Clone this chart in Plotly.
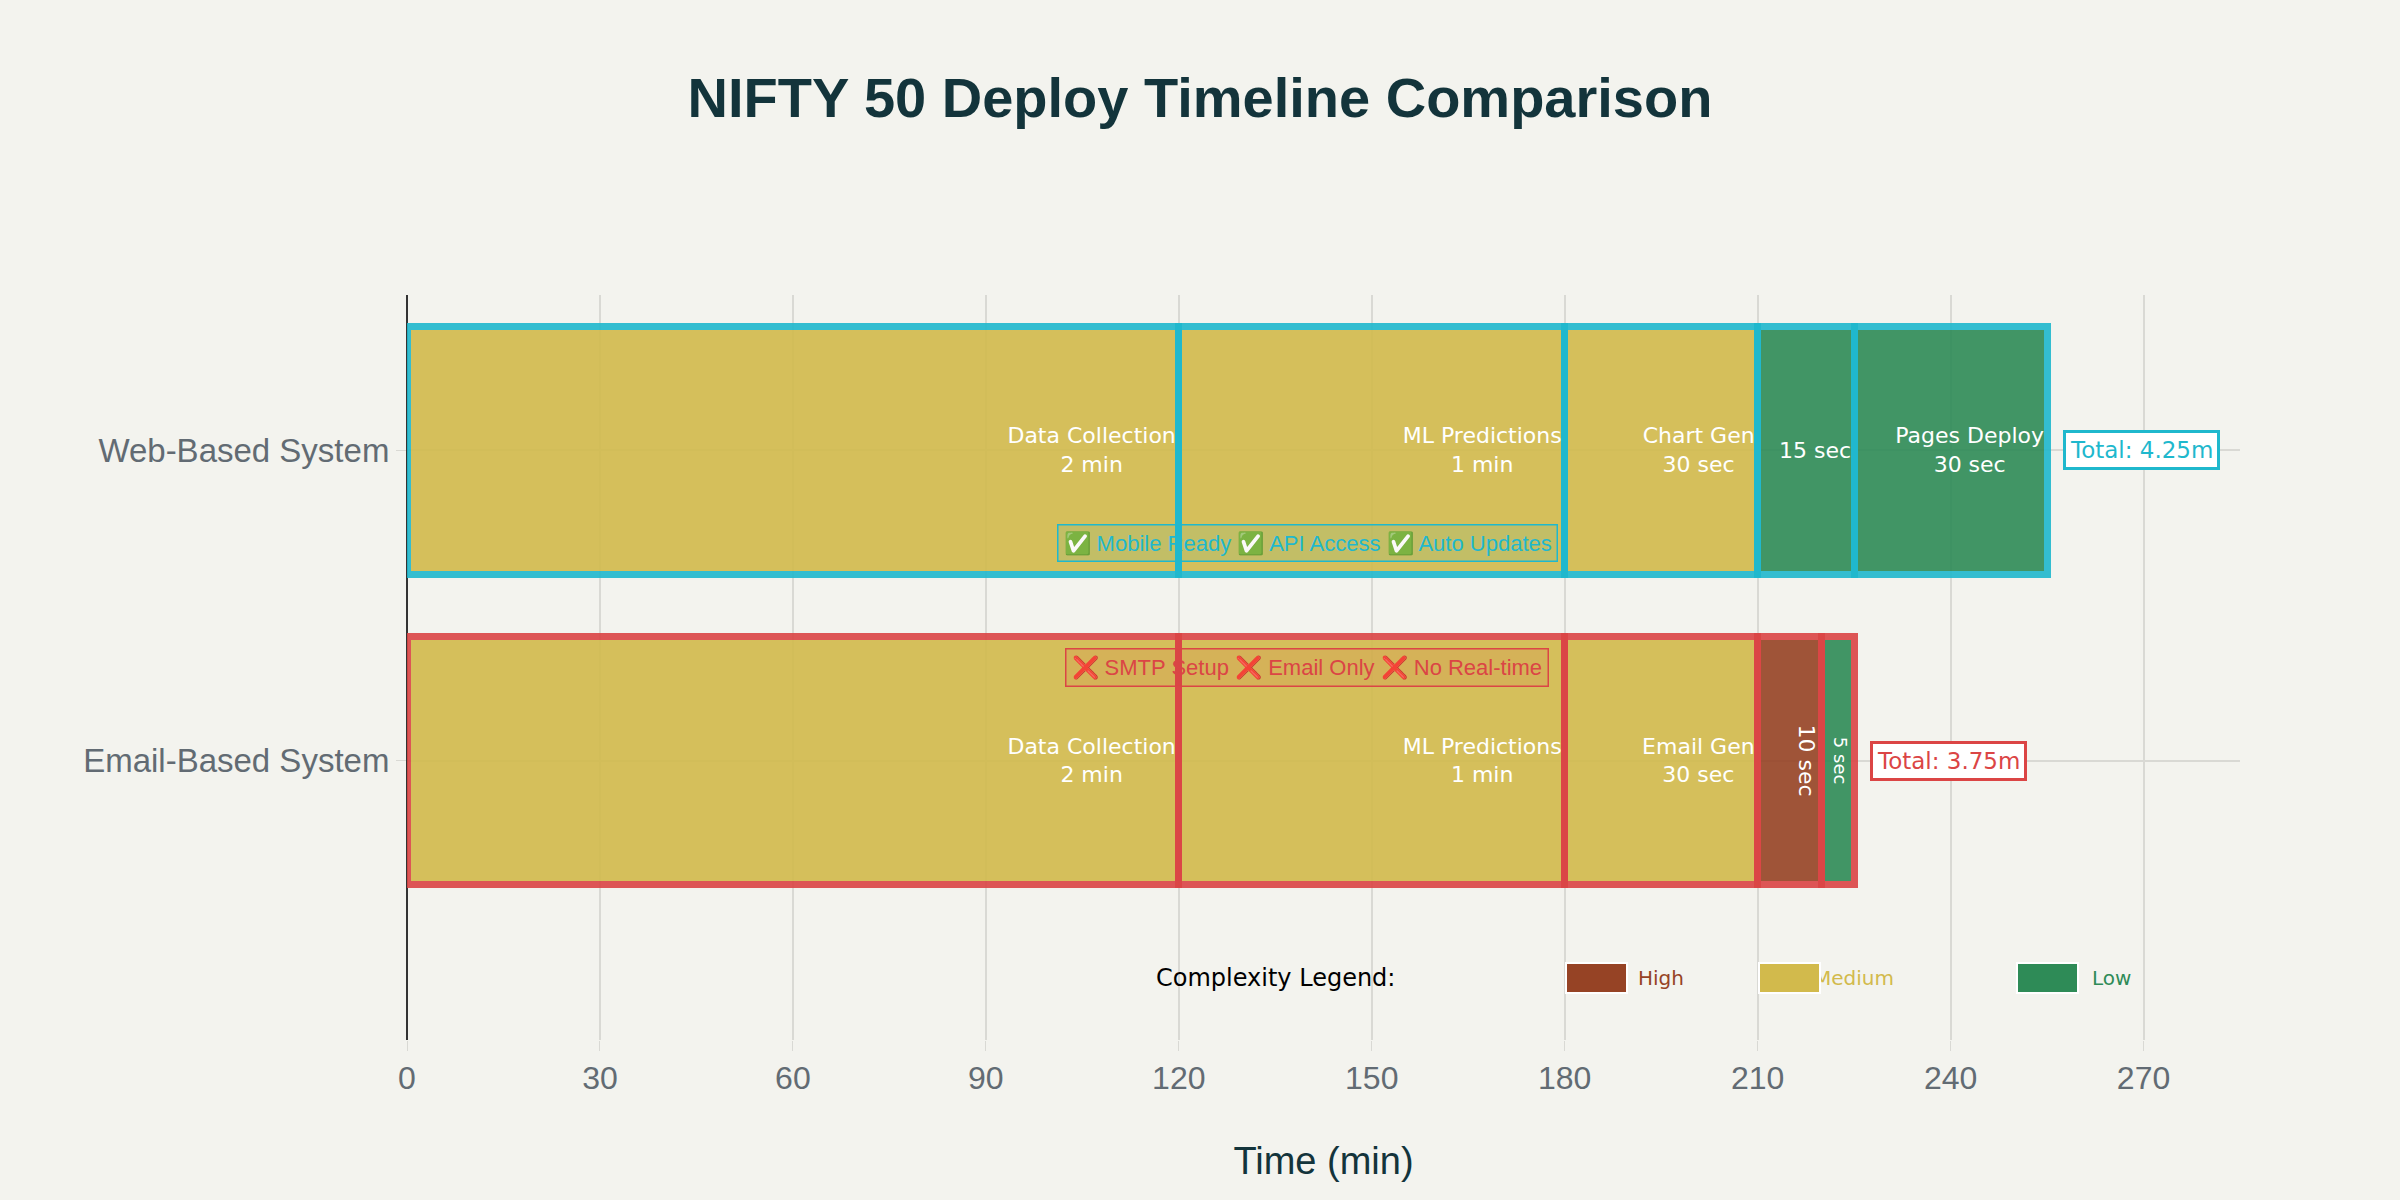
import plotly.graph_objects as go

# ---------------- data ----------------
systems = ["Web-Based System", "Email-Based System"]
category_order = ["Email-Based System", "Web-Based System"]

web_stages = ["Data Collection", "ML Predictions", "Chart Gen", "", "Pages Deploy"]
web_durations = [120, 60, 30, 15, 30]
web_labels = ["2 min", "1 min", "30 sec", "15 sec", "30 sec"]
web_complexity = ["Medium", "Medium", "Medium", "Low", "Low"]

email_stages = ["Data Collection", "ML Predictions", "Email Gen", "", ""]
email_durations = [120, 60, 30, 10, 5]
email_labels = ["2 min", "1 min", "30 sec", "10 sec", "5 sec"]
email_complexity = ["Medium", "Medium", "Medium", "High", "Low"]

web_features = "✅ Mobile Ready ✅ API Access ✅ Auto Updates"
email_features = "❌ SMTP Setup ❌ Email Only ❌ No Real-time"

complexity_levels = ["High", "Medium", "Low"]
legend_title = "Complexity Legend:"
x_ticks = [0, 30, 60, 90, 120, 150, 180, 210, 240, 270]

# ---------------- styles ----------------
complexity_colors = {"High": "#964325", "Medium": "#D2BA4C", "Low": "#2E8B57"}
system_colors = {"Web-Based System": "#1FB8CD", "Email-Based System": "#DB4545"}
BG = "#F3F3EE"
TXT_FONT = "DejaVu Sans"
AX_FONT = "Liberation Sans"

fig = go.Figure()

series = [
    ("Web-Based System", web_stages, web_durations, web_labels, web_complexity),
    ("Email-Based System", email_stages, email_durations, email_labels, email_complexity),
]

for system, stages, durations, labels, comps in series:
    for stage, dur, lab, comp in zip(stages, durations, labels, comps):
        text = f"{stage}<br>{lab}" if stage else lab
        fsize = 18 if dur < 10 else 22
        fig.add_trace(go.Bar(
            y=[system], x=[dur], orientation="h",
            marker=dict(color=complexity_colors[comp], opacity=0.9,
                        line=dict(color=system_colors[system], width=7)),
            text=[text], textposition="inside", insidetextanchor="end",
            insidetextfont=dict(color="white", size=fsize, family=TXT_FONT),
            showlegend=False, hoverinfo="skip",
        ))

annotations = []
# totals
for system, durations in [("Web-Based System", web_durations), ("Email-Based System", email_durations)]:
    total = sum(durations)
    annotations.append(dict(
        x=total + 2.5, y=category_order.index(system), xref="x", yref="y",
        text=f"Total: {total / 60:.2f}m", showarrow=False, xanchor="left", yanchor="middle",
        font=dict(size=23, color=system_colors[system], family=TXT_FONT),
        bgcolor="white", bordercolor=system_colors[system], borderwidth=3, borderpad=4,
    ))

# feature notes
annotations.append(dict(
    x=140, y=0.7, xref="x", yref="y", text=web_features, showarrow=False,
    font=dict(size=22, color="#1FB8CD", family=AX_FONT),
    bgcolor="rgba(31,184,205,0.1)", bordercolor="#1FB8CD", borderwidth=1.5, borderpad=5,
))
annotations.append(dict(
    x=140, y=0.3, xref="x", yref="y", text=email_features, showarrow=False,
    font=dict(size=22, color="#DB4545", family=AX_FONT),
    bgcolor="rgba(219,69,69,0.1)", bordercolor="#DB4545", borderwidth=1.5, borderpad=5,
))

# complexity legend
annotations.append(dict(
    x=135, y=-0.7, xref="x", yref="y", text=legend_title, showarrow=False,
    font=dict(size=24, color="black", family=TXT_FONT),
))
legend_square_x = {"High": 185, "Medium": 215, "Low": 255}
legend_text_x = {"High": 195, "Medium": 225, "Low": 265}
for lvl in complexity_levels:
    annotations.append(dict(
        x=legend_text_x[lvl], y=-0.7, xref="x", yref="y", text=lvl, showarrow=False,
        font=dict(size=20, color=complexity_colors[lvl], family=TXT_FONT),
    ))
for lvl in complexity_levels:
    annotations.append(dict(
        x=legend_square_x[lvl], y=-0.7, xref="x", yref="y", text=" ", showarrow=False,
        width=59, height=28, bgcolor=complexity_colors[lvl],
        bordercolor="white", borderwidth=2, borderpad=0,
    ))

fig.update_layout(
    width=2400, height=1200,
    barmode="stack", bargap=0.2,
    paper_bgcolor=BG, plot_bgcolor=BG,
    margin=dict(l=407, r=160, t=295, b=160),
    font=dict(family=AX_FONT, color="#13343B"),
    title=dict(text="<b>NIFTY 50 Deploy Timeline Comparison</b>", x=0.5, xanchor="center",
               y=0.919, yanchor="middle", xref="container",
               font=dict(size=56, color="#13343B", family=AX_FONT)),
    annotations=annotations,
    xaxis=dict(
        range=[0, 285], tickvals=x_ticks,
        title=dict(text="Time (min)", font=dict(size=38, color="#13343B"), standoff=51),
        tickfont=dict(size=32, color="#626B73"),
        showgrid=True, gridcolor="#D9D9D4", gridwidth=1.5,
        zeroline=True, zerolinecolor="#333333", zerolinewidth=1.5,
        ticks="outside", ticklen=10, tickcolor="#D9D9D4", showline=False,
    ),
    yaxis=dict(
        categoryorder="array", categoryarray=category_order,
        range=[-0.9, 1.5],
        tickfont=dict(size=33, color="#626B73"),
        showgrid=True, gridcolor="#D9D9D4", gridwidth=1.5,
        ticks="outside", ticklen=10, tickcolor="#D9D9D4", showline=False,
        zeroline=False,
    ),
)

fig.write_html("out.html")
